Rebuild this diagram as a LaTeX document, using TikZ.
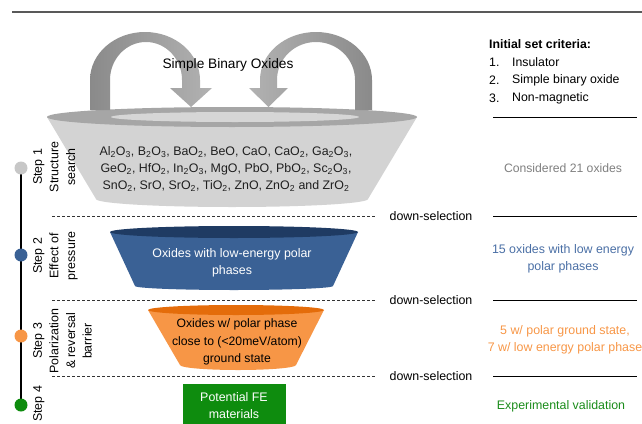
\documentclass[tikz,border=0pt]{standalone}
\usepackage{fontspec}
\setmainfont{Liberation Sans}
\usetikzlibrary{backgrounds}

\definecolor{bandgray}{HTML}{A6A6A6}
\definecolor{bodygray}{HTML}{D3D3D3}
\definecolor{rimgray}{HTML}{D6D6D6}
\definecolor{archdark}{HTML}{8A8A8A}
\definecolor{archlight}{HTML}{B2B2B2}
\definecolor{polblue}{HTML}{3A6195}
\definecolor{polbluetop}{HTML}{1F3B63}
\definecolor{txtblue}{HTML}{4A6FA5}
\definecolor{gsorange}{HTML}{F79646}
\definecolor{gsorangetop}{HTML}{E46C0A}
\definecolor{fegreen}{HTML}{0E8C0E}
\definecolor{txtgreen}{HTML}{1A8C1A}
\definecolor{rulegray}{HTML}{595959}
\definecolor{consgray}{HTML}{7F7F7F}

\newcommand{\fsz}[2]{\fontsize{#1pt}{#2pt}\selectfont}

\begin{document}
\begin{tikzpicture}[x=1pt,y=-1pt,
  txt/.style={inner sep=0pt, align=center, font=\fsz{12.4}{17}},
  steplabel/.style={inner sep=0pt, align=center, rotate=90, anchor=north, font=\fsz{12.4}{16.6}},
  stepdot/.style={circle, inner sep=0pt, minimum size=13pt},
  dsel/.style={inner sep=0pt, font=\fsz{12.4}{15}},
  sepline/.style={draw=black!80, line width=0.8pt, dash pattern=on 3pt off 2pt},
  ruleline/.style={draw=black, line width=0.9pt},
  crit/.style={inner sep=0pt, anchor=west, font=\fsz{12.3}{15}}
]
\useasboundingbox (0,0) rectangle (642,423);

% top rule
\draw[rulegray, line width=2.2pt] (12,12) -- (642,12);

% ---------- step 1 dish ----------
\fill[bodygray] (47,117) -- (96,199)
  arc[start angle=180, end angle=0, x radius=136, y radius=8]
  -- (417,117) -- cycle;
\fill[bandgray] (232,117) ellipse[x radius=185, y radius=10];
\fill[rimgray] (235,117) ellipse[x radius=124, y radius=5];

% recirculating arches
\shade[left color=archdark, right color=archlight]
  (90,110) -- (90,80) arc[start angle=180, end angle=360, x radius=55, y radius=48]
  -- (200,88) -- (212,88) -- (191,107) -- (170,88) -- (182,88) -- (182,80)
  arc[start angle=360, end angle=180, x radius=36, y radius=38]
  -- (110,110) -- cycle;
\shade[left color=archlight, right color=archdark]
  (372,110) -- (372,80) arc[start angle=360, end angle=180, x radius=56, y radius=48]
  -- (260,88) -- (249,88) -- (268.5,107) -- (288,88) -- (277,88) -- (277,80)
  arc[start angle=180, end angle=360, x radius=39, y radius=38]
  -- (355,110) -- cycle;

\node[inner sep=0pt, font=\fsz{13.7}{16}] (sbo) at (228,65) {Simple Binary Oxides};

\node[txt, text=black!88] (oxlist) at (226,169) {%
  Al\textsubscript{2}O\textsubscript{3}, B\textsubscript{2}O\textsubscript{3}, BaO\textsubscript{2}, BeO, CaO, CaO\textsubscript{2}, Ga\textsubscript{2}O\textsubscript{3},\\
  GeO\textsubscript{2}, HfO\textsubscript{2}, In\textsubscript{2}O\textsubscript{3}, MgO, PbO, PbO\textsubscript{2}, Sc\textsubscript{2}O\textsubscript{3},\\
  SnO\textsubscript{2}, SrO, SrO\textsubscript{2}, TiO\textsubscript{2}, ZnO, ZnO\textsubscript{2} and ZrO\textsubscript{2}};

% ---------- step 2 funnel ----------
\fill[polblue] (110,232) -- (135,286)
  arc[start angle=180, end angle=0, x radius=99, y radius=4]
  -- (358,232) -- cycle;
\fill[polbluetop] (234,232) ellipse[x radius=124, y radius=6];
\node[txt, text=white] (lowen) at (232,263) {Oxides with low-energy polar\\phases};

% ---------- step 3 funnel ----------
\fill[gsorange] (148,310) -- (180,365)
  arc[start angle=180, end angle=0, x radius=58, y radius=5]
  -- (324,310) -- cycle;
\fill[gsorangetop] (236,310) ellipse[x radius=88, y radius=5];
\node[txt, text=black, font=\fsz{12.2}{17.5}] (polgs) at (237,342)
  {Oxides w/ polar phase\\close to (<20meV/atom)\\ground state};

% ---------- step 4 box ----------
\fill[fegreen] (183,384) rectangle (286,424);
\node[txt, text=white] (fe) at (234,406) {Potential FE\\materials};

% ---------- step timeline ----------
\node[stepdot, fill=black!22] (c1) at (21,168) {};
\node[stepdot, fill=polblue] (c2) at (21,255) {};
\node[stepdot, fill=gsorange] (c3) at (21,336) {};
\node[stepdot, fill=fegreen] (c4) at (21,405) {};
\begin{scope}[on background layer]
  \draw[black, line width=1.4pt] (c1.center) -- (c4.center);
\end{scope}

\node[steplabel] (l1) at (33,167) {Step 1\\Structure\\search};
\node[steplabel] (l2) at (33,256) {Step 2\\Effect of\\pressure};
\node[steplabel] (l3) at (33,341) {Step 3\\Polarization\\\& reversal\\barrier};
\node[steplabel] (l4) at (33,404) {Step 4};

% ---------- down-selection separators ----------
\node[dsel] (d1) at (431,216) {down-selection};
\node[dsel] (d2) at (431,300) {down-selection};
\node[dsel] (d3) at (431,376) {down-selection};
\coordinate (e1) at (52,216);
\coordinate (e2) at (52,300);
\coordinate (e3) at (52,376);
\draw[sepline] (e1) -- ([xshift=-14pt]d1.west);
\draw[sepline] (e2) -- ([xshift=-14pt]d2.west);
\draw[sepline] (e3) -- ([xshift=-14pt]d3.west);

\coordinate (r0a) at (493,117); \coordinate (r0b) at (637,117);
\coordinate (r1a) at (493,216); \coordinate (r1b) at (637,216);
\coordinate (r2a) at (493,300); \coordinate (r2b) at (637,300);
\coordinate (r3a) at (493,376); \coordinate (r3b) at (637,376);
\draw[ruleline] (r0a) -- (r0b);
\draw[ruleline] (r1a) -- (r1b);
\draw[ruleline] (r2a) -- (r2b);
\draw[ruleline] (r3a) -- (r3b);

% ---------- right column ----------
\node[crit, font=\bfseries\fsz{12.3}{15}] (ct) at (489,44) {Initial set criteria:};
\node[crit] (n1) at (489,62) {1.};
\node[crit] (n2) at (489,80) {2.};
\node[crit] (n3) at (489,98) {3.};
\node[crit] (i1) at (512,62) {Insulator};
\node[crit] (i2) at (512,80) {Simple binary oxide};
\node[crit] (i3) at (512,98) {Non-magnetic};

\node[txt, text=consgray, font=\fsz{12.2}{17}] (cons) at (563,168) {Considered 21 oxides};
\node[txt, text=txtblue] (o15) at (563,259) {15 oxides with low energy\\polar phases};
\node[txt, text=gsorange] (o5) at (565,340) {5 w/ polar ground state,\\7 w/ low energy polar phase};
\node[txt, text=txtgreen] (exp) at (561,406) {Experimental validation};
\end{tikzpicture}
\end{document}
